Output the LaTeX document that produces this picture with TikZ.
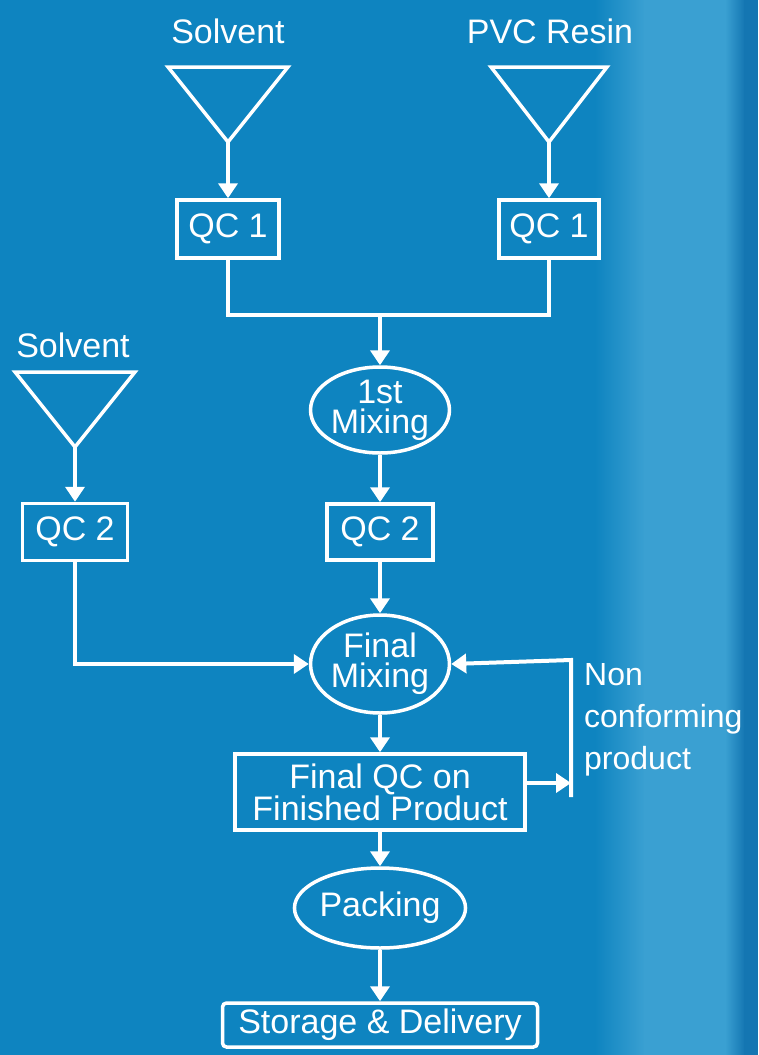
\documentclass[tikz,border=0pt]{standalone}
\usepackage{fontspec}
\setmainfont{Liberation Sans}
\usetikzlibrary{shapes.geometric,arrows.meta}
\definecolor{bgmain}{RGB}{14,132,192}
\definecolor{bglight}{RGB}{58,160,210}
\definecolor{bgdark}{RGB}{20,118,178}
\begin{document}
\begin{tikzpicture}[x=1pt,y=-1pt,
  txt/.style={text=white,font=\fontsize{34}{30}\selectfont,inner sep=0pt},
  box/.style={txt,draw=white,line width=3.5pt,rectangle,align=center},
  oval/.style={txt,draw=white,line width=3.5pt,ellipse,align=center},
  ln/.style={draw=white,line width=4pt},
  arr/.style={ln,-{Triangle[width=19pt,length=15pt]}},
  tri/.style={draw=white,line width=3.5pt,line join=miter}]
\useasboundingbox (0,0) rectangle (758,1055);
% background
\fill[bgmain] (0,0) rectangle (758,1055);
\shade[left color=bgmain,right color=bglight] (595,0) rectangle (645,1055);
\fill[bglight] (644,0) rectangle (726,1055);
\shade[left color=bglight,right color=bgdark] (725,0) rectangle (745,1055);
\fill[bgdark] (744,0) rectangle (758,1055);
% labels
\node[txt] (ls1) at (228,31) {Solvent};
\node[txt] (lpvc) at (550,31) {PVC Resin};
\node[txt] (ls2) at (73,345) {Solvent};
% triangles
\draw[tri] (168,67) -- (288,67) -- (228,142) -- cycle;
\draw[tri] (491,67) -- (607,67) -- (549,142) -- cycle;
\draw[tri] (15,372) -- (135,372) -- (75,447) -- cycle;
\coordinate (t1) at (228,142);
\coordinate (t2) at (549,142);
\coordinate (t3) at (75,447);
% nodes
\node[box,minimum width=102pt,minimum height=58pt] (qc1a) at (228,229) {QC 1};
\node[box,minimum width=100pt,minimum height=58pt] (qc1b) at (549,229) {QC 1};
\coordinate (join) at (380,315);
\node[oval,minimum width=132pt,minimum height=86pt] (mix1) at (380,410) {1st\\Mixing};
\node[box,minimum width=106pt,minimum height=56pt] (qc2m) at (380,532) {QC 2};
\node[box,minimum width=105pt,minimum height=57pt] (qc2l) at (75,532) {QC 2};
\node[oval,minimum width=130pt,minimum height=98pt] (fmix) at (380,664) {Final\\Mixing};
\node[box,minimum width=290pt,minimum height=76pt] (fqc) at (380,792) {Final QC on\\Finished Product};
\node[oval,minimum width=165pt,minimum height=80pt] (pack) at (380,908) {Packing};
\node[box,rounded corners=4pt,minimum width=315pt,minimum height=44pt] (store) at (380,1025) {Storage \& Delivery};
\node[txt,font=\fontsize{32}{42}\selectfont,align=left,anchor=west] (nonc) at (584,720) {Non\\conforming\\product};
\coordinate (rtop) at (571,660);
\coordinate (rbot) at (571,797);
\coordinate (fqcr) at ([yshift=9pt]fqc.east);
% connectors
\draw[arr] (t1) -- (qc1a.north);
\draw[arr] (t2) -- (qc1b.north);
\draw[arr] (t3) -- (qc2l.north);
\draw[ln] (qc1a.south) |- (join) -| (qc1b.south);
\draw[arr] (join) -- (mix1.north);
\draw[arr] (mix1.south) -- (qc2m.north);
\draw[arr] (qc2m.south) -- (fmix.north);
\draw[arr] (qc2l.south) |- (fmix.west);
\draw[arr] (rbot) -- (rtop) -- (fmix.east);
\draw[arr] (fqcr) -- (rbot |- fqcr);
\draw[arr] (fmix.south) -- (fqc.north);
\draw[arr] (fqc.south) -- (pack.north);
\draw[arr] (pack.south) -- (store.north);
\end{tikzpicture}
\end{document}
